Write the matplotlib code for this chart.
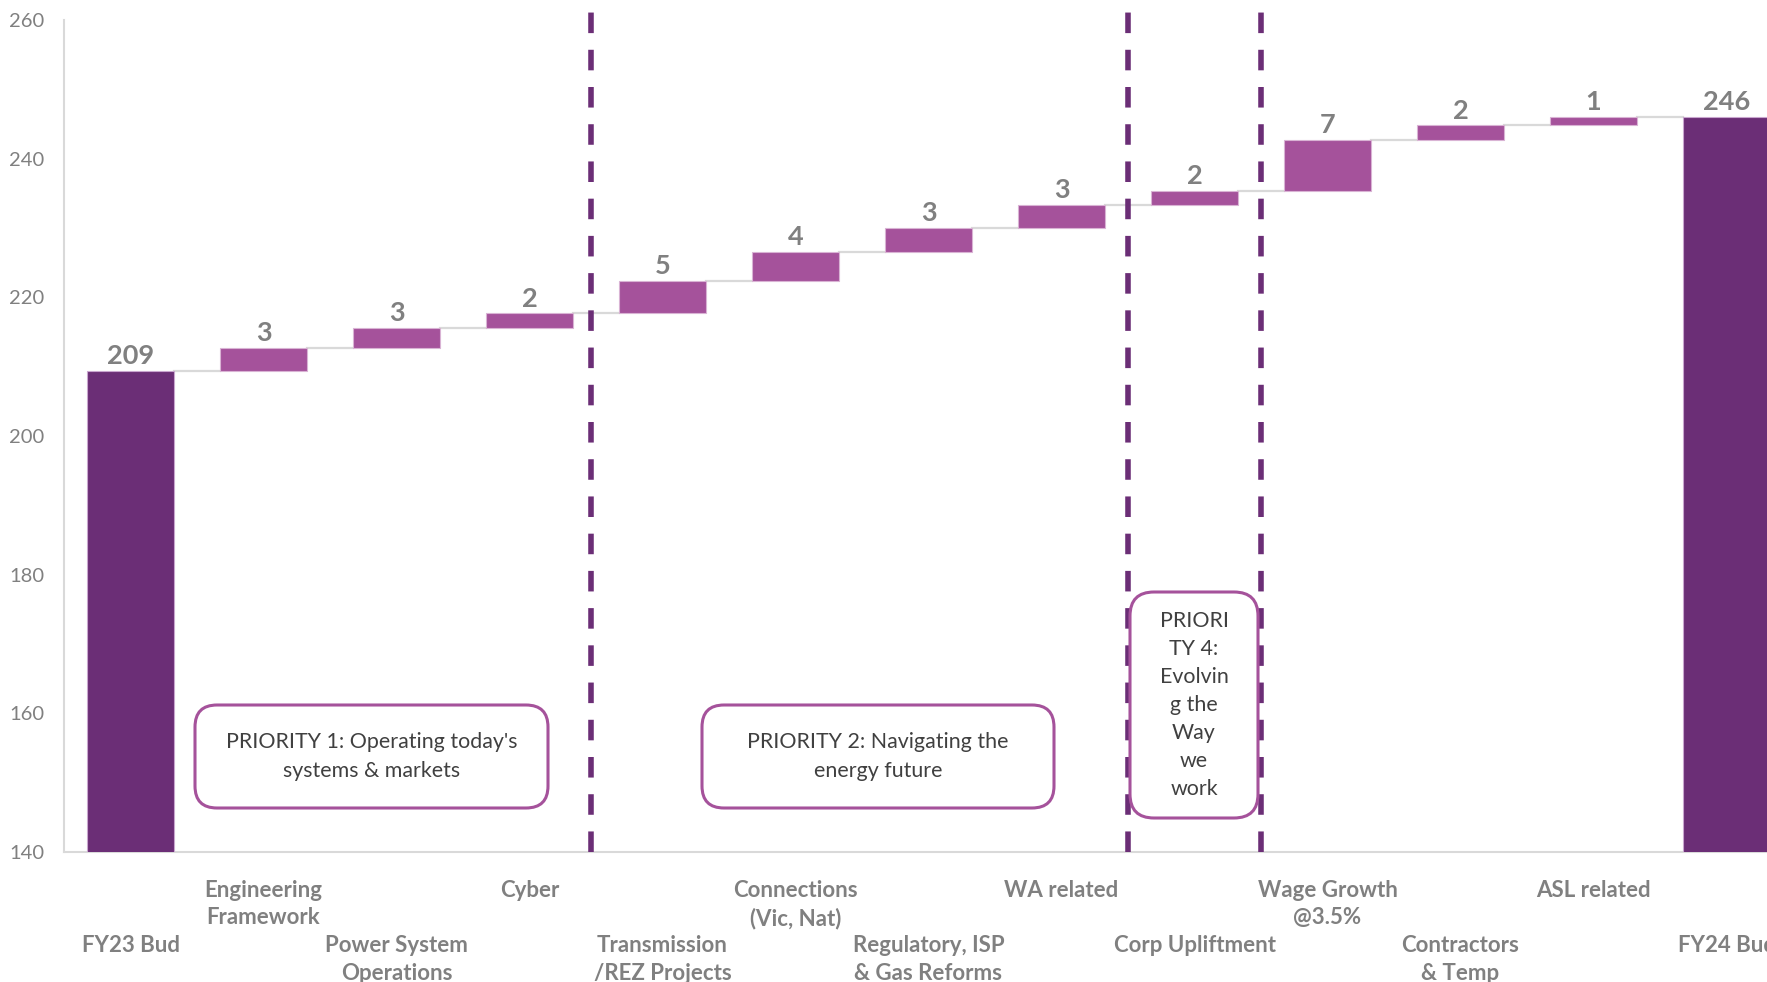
import numpy as np
import matplotlib.pyplot as plt
from matplotlib.patches import FancyBboxPatch
from matplotlib.transforms import IdentityTransform

plt.rcParams['font.family'] = ['Lato', 'DejaVu Sans']

# waterfall data
categories = ["FY23 Bud", "Engineering\nFramework", "Power System\nOperations", "Cyber",
              "Transmission\n/REZ Projects", "Connections\n(Vic, Nat)",
              "Regulatory, ISP\n& Gas Reforms", "WA related", "Corp Upliftment",
              "Wage Growth\n@3.5%", "Contractors\n& Temp", "ASL related", "FY24 Bud"]
start_total = 209.4
changes = [3.3, 2.9, 2.1, 4.7, 4.2, 3.4, 3.3, 2.1, 7.3, 2.1, 1.2]
end_total = 246.0
y_ticks = [140, 160, 180, 200, 220, 240, 260]
divider_x = [3.46, 7.5, 8.5]
priority_texts = ["PRIORITY 1: Operating today's\nsystems & markets",
                  "PRIORITY 2: Navigating the\nenergy future",
                  "PRIORI\nTY 4:\nEvolvin\ng the\nWay\nwe\nwork"]

total_color = '#6b2e76'
step_color = '#a5529b'
grey = '#808080'

fig = plt.figure(figsize=(17.67, 9.82), dpi=100)
ax = fig.add_axes([64 / 1767, 130 / 982, (1793 - 64) / 1767, 832 / 982])

x = np.arange(len(categories))
width = 0.66
levels = start_total + np.cumsum(changes)
bottoms = np.concatenate([[start_total], levels[:-1]])

# totals
ax.bar([x[0], x[-1]], [start_total, end_total], width=width, color=total_color,
       edgecolor='#c9a6cf', linewidth=0.8, zorder=3)
# increments
ax.bar(x[1:-1], changes, bottom=bottoms, width=width, color=step_color,
       edgecolor='#d9b3d4', linewidth=0.8, zorder=3)

# connector lines
tops = np.concatenate([[start_total], levels])
for i, lvl in enumerate(tops):
    ax.plot([x[i] + width / 2, x[i + 1] - width / 2], [lvl, lvl],
            color='#d9d9d9', lw=1.6, zorder=2)

# value labels
label_kw = dict(ha='center', va='bottom', fontsize=19.5, fontweight='bold', color=grey,
                textcoords='offset points', xytext=(0, 2))
ax.annotate(f"{start_total:.0f}", (x[0], start_total), **label_kw)
ax.annotate(f"{end_total:.0f}", (x[-1], end_total), **label_kw)
for xi, b, c in zip(x[1:-1], bottoms, changes):
    ax.annotate(f"{c:.0f}", (xi, b + c), **label_kw)

# dashed dividers
for dx in divider_x:
    ax.axvline(dx, ymin=0, ymax=1.017, color=total_color, lw=4, dashes=(3.7, 3.0),
               clip_on=False, zorder=4)

ax.set_xlim(-0.5, len(categories) - 0.5)
ax.set_ylim(140, 260)
ax.set_yticks(y_ticks)
ax.tick_params(axis='y', length=0, pad=14, labelsize=14.5, labelcolor=grey)
ax.set_xticks(x)
ax.set_xticklabels([c if i % 2 else "\n\n" + c for i, c in enumerate(categories)],
                   fontsize=16, fontweight='bold', color=grey, linespacing=1.39)
ax.tick_params(axis='x', length=0, pad=20)
for s in ['top', 'right']:
    ax.spines[s].set_visible(False)
for s in ['left', 'bottom']:
    ax.spines[s].set_color('#d9d9d9')
    ax.spines[s].set_linewidth(1.5)

# priority boxes (pixel positions)
boxes = [(195, 174, 353, 103, 22, 1.56), (702, 174, 352, 103, 22, 1.56),
         (1130, 164, 128, 226, 24, 1.51)]
for (bx, by, bw, bh, r, ls), txt in zip(boxes, priority_texts):
    patch = FancyBboxPatch((bx, by), bw, bh, boxstyle=f"round,pad=0,rounding_size={r}",
                           facecolor='white', edgecolor=step_color, linewidth=2.2,
                           transform=IdentityTransform(), zorder=5)
    fig.add_artist(patch)
    fig.text(bx + bw / 2, by + bh / 2, txt, transform=IdentityTransform(),
             ha='center', va='center', fontsize=15.4, color='#404040',
             linespacing=ls, zorder=6)

fig.savefig('out.png', dpi=100)
